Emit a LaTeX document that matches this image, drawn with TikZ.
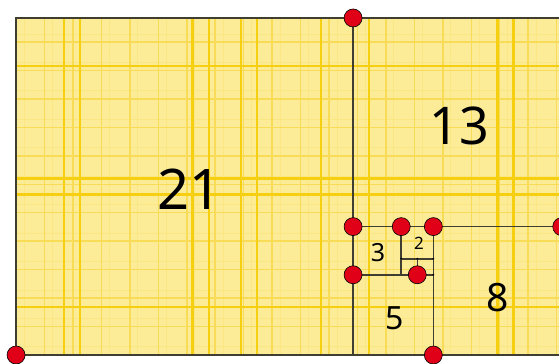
\documentclass[tikz,border=0pt]{standalone}
\usepackage{fontspec}
\setmainfont{Noto Sans}
\usetikzlibrary{positioning}
\definecolor{paper}{HTML}{FCEC98}
\definecolor{gridfaint}{HTML}{FAE682}
\definecolor{gridunit}{HTML}{F8DC58}
\definecolor{gridbold}{HTML}{F6D010}
\definecolor{edge}{HTML}{403E30}
\definecolor{dotred}{HTML}{E00018}
\tikzset{
  spiraldot/.style={circle, fill=dotred, draw=black, line width=0.6pt, minimum size=18pt, inner sep=0pt},
  sqedge/.style={draw=edge, line width=1.6pt},
  sqlabel/.style={text=black, inner sep=0pt},
  tinydot/.style={circle, fill=black, minimum size=2pt, inner sep=0pt},
}

\begin{document}
\begin{tikzpicture}[x=16.05pt, y=16.05pt]
  \clip (-1,-0.5) rectangle (33.83,22.12);
  \fill[white] (-1,-0.5) rectangle (33.83,22.12);
  % grid paper
  \begin{scope}
    \clip (0,0) rectangle (34,21);
    \fill[paper] (0,0) rectangle (34,21);
    \draw[gridfaint, line width=1pt, xshift=8.025pt, yshift=8.025pt] (-1,-1) grid (34,21);
    \draw[gridunit, line width=1.5pt] (0,0) grid (34,21);
    \foreach \gx in {3,4,11,12,14,15,19,22,30,31}
      \draw[gridbold, line width=2.2pt] (\gx,0) -- (\gx,21);
    \foreach \gy in {3,10,11,18}
      \draw[gridbold, line width=2.2pt] (0,\gy) -- (34,\gy);
  \end{scope}
  % squares
  \draw[sqedge, line width=2pt] (0,0) rectangle (21,21);
  \draw[sqedge, line width=2pt] (21,21) -- (34,21);
  \draw[sqedge] (21,8) rectangle (34,21);
  \draw[sqedge] (26,0) rectangle (34,8);
  \draw[sqedge] (21,0) rectangle (26,5);
  \draw[sqedge] (21,5) rectangle (24,8);
  \draw[sqedge] (24,6) rectangle (26,8);
  \draw[sqedge, line width=0.9pt] (24,5) rectangle (25,6);
  \draw[sqedge, line width=0.9pt] (25,5) rectangle (26,6);
  \node[tinydot] (c1) at (24,6) {};
  \node[tinydot] (c2) at (25,6) {};
  \node[tinydot] (c3) at (26,6) {};
  \node[tinydot] (c4) at (26,5) {};
  % labels
  \node[sqlabel, font=\fontsize{56}{56}\selectfont] (l21) at (10.8,10.3) {21};
  \node[sqlabel, font=\fontsize{52}{52}\selectfont] (l13) at (27.6,14.3) {13};
  \node[sqlabel, font=\fontsize{39}{39}\selectfont] (l8) at (30,3.6) {8};
  \node[sqlabel, font=\fontsize{32}{32}\selectfont] (l5) at (23.6,2.3) {5};
  \node[sqlabel, font=\fontsize{25}{25}\bfseries] (l3) at (22.55,6.4) {3};
  \node[sqlabel, font=\fontsize{17}{17}\bfseries] (l2) at (25.1,6.95) {2};
  % corner points
  \node[spiraldot] (p1) at (0,0) {};
  \node[spiraldot] (p2) at (21,21) {};
  \node[spiraldot] (p3) at (34,8) {};
  \node[spiraldot] (p4) at (26,0) {};
  \node[spiraldot] (p5) at (21,5) {};
  \node[spiraldot] (p6) at (21,8) {};
  \node[spiraldot] (p7) at (24,8) {};
  \node[spiraldot] (p8) at (26,8) {};
  \node[spiraldot] (p9) at (25,5) {};
\end{tikzpicture}
\end{document}
